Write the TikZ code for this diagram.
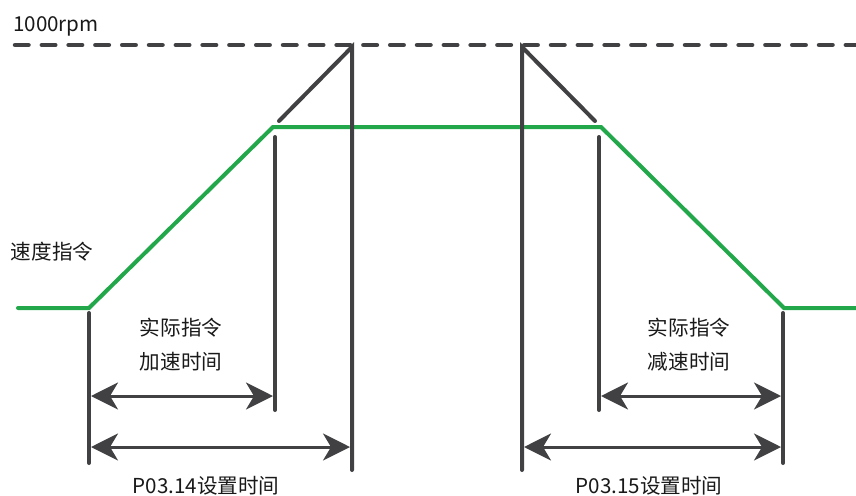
\documentclass[tikz,border=0pt]{standalone}
\usepackage{fontspec}
\setmainfont{Noto Sans CJK SC}
\usetikzlibrary{arrows.meta}
\definecolor{curvegreen}{RGB}{34,168,75}
\definecolor{linegray}{RGB}{65,64,66}

\begin{document}
\begin{tikzpicture}[
  x=1pt,y=-1pt,
  font=\fontsize{20.6}{34}\selectfont,
  guide/.style={draw=linegray,line width=4pt,line cap=round},
  limit/.style={draw=linegray,line width=4.5pt,line cap=round,dash pattern=on 13.5pt off 13.3pt},
  speed/.style={draw=curvegreen,line width=4pt,line cap=round,line join=miter},
  span/.style={draw=linegray,line width=3pt,{Stealth[length=27pt,width=27pt,inset=8pt]}-{Stealth[length=27pt,width=27pt,inset=8pt]}},
  lbl/.style={inner sep=0pt,align=center,text=black!90}
]
\useasboundingbox (0,0) rectangle (856,495);

% 1000rpm limit
\coordinate (limL) at (15,45);
\coordinate (limR) at (870,45);
\draw[limit] (limL) -- (limR);
\node[lbl,anchor=base west] (maxspeed) at (13,32) {1000rpm};

% speed command curve
\coordinate (g0) at (18,308);
\coordinate (g1) at (89,308);
\coordinate (g2) at (273,127);
\coordinate (g3) at (601,127);
\coordinate (g4) at (784,308);
\coordinate (g5) at (870,308);
\draw[speed] (g0) -- (g1) -- (g2) -- (g3) -- (g4) -- (g5);
\node[lbl] (cmd) at (52,252) {速度指令};

% acceleration side
\coordinate (accTop) at (352,47);
\coordinate (accBot) at (352,470);
\coordinate (accRamp) at (279,121);
\coordinate (accEndT) at (275,137);
\coordinate (accEndB) at (275,410);
\coordinate (startT) at (89,313);
\coordinate (startB) at (89,463);
\draw[guide] (accRamp) -- (accTop) -- (accBot);
\draw[guide] (accEndT) -- (accEndB);
\draw[guide] (startT) -- (startB);

\coordinate (accA1) at (91,396);
\coordinate (accA2) at (273,396);
\coordinate (accB1) at (91,447);
\coordinate (accB2) at (350,447);
\draw[span] (accA1) -- (accA2);
\draw[span] (accB1) -- (accB2);
\node[lbl] (accreal) at (181,345) {实际指令\\加速时间};
\node[lbl] (accset) at (206,486) {P03.14设置时间};

% deceleration side
\coordinate (decTop) at (522,47);
\coordinate (decBot) at (522,470);
\coordinate (decRamp) at (595,121);
\coordinate (decBegT) at (599,137);
\coordinate (decBegB) at (599,410);
\coordinate (stopT) at (783,313);
\coordinate (stopB) at (783,463);
\draw[guide] (decBot) -- (decTop) -- (decRamp);
\draw[guide] (decBegT) -- (decBegB);
\draw[guide] (stopT) -- (stopB);

\coordinate (decA1) at (601,396);
\coordinate (decA2) at (781,396);
\coordinate (decB1) at (524,447);
\coordinate (decB2) at (781,447);
\draw[span] (decA1) -- (decA2);
\draw[span] (decB1) -- (decB2);
\node[lbl] (decreal) at (689,345) {实际指令\\减速时间};
\node[lbl] (decset) at (649,486) {P03.15设置时间};
\end{tikzpicture}
\end{document}
